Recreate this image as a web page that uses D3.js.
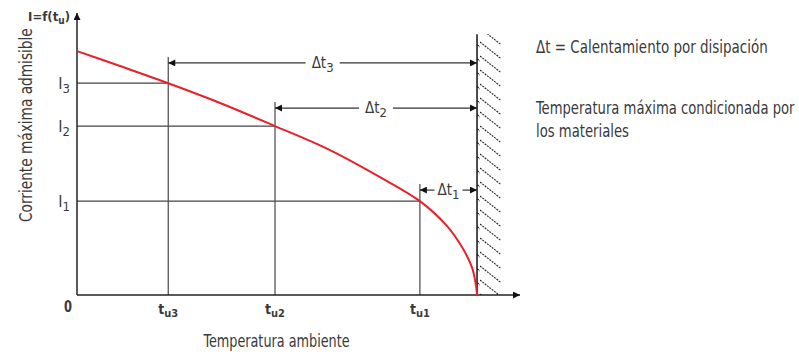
<!DOCTYPE html>
<html>
<head>
<meta charset="utf-8">
<script src="https://cdn.jsdelivr.net/npm/d3@7"></script>
<style>
  body { margin: 0; background: #fff; }
  svg text { font-family: "DejaVu Sans Condensed", "Liberation Sans", sans-serif; fill: #3a3a3a; }
</style>
</head>
<body>
<svg id="vis-svg"></svg>
<script>
// curve points (temperature units, current units)
const curveT = [0, 9.7, 20.6, 32.3, 44.7, 57.1, 68.4, 77.4, 83.5, 87.2, 89.2, 90.1, 90.3];
const curveI = [86.5, 81.2, 75.1, 68.1, 59.9, 51.4, 41.8, 33.3, 24.5, 16.2, 9.6, 3.0, 0];

// operating points
const pointNames = ["1", "2", "3"];
const pointT = [77.4, 44.7, 20.6];
const pointI = [33.3, 59.9, 75.1];
const tMax = 90.3;
const wallTop = 92.5;
const arrowLevel = [37.2, 66.3, 82.3];

const notes = ["Δt = Calentamiento por disipación", "Temperatura máxima condicionada por", "los materiales"];

let svg = d3.select("#vis-svg")
    .attr("width", 799)
    .attr("height", 357);

let x = d3.scaleLinear().domain([0, 100]).range([77, 520]);
let y = d3.scaleLinear().domain([0, 100]).range([295, 13]);

// squeeze a text to a given width (the reference font is condensed)
function fit(t, px, py, width, anchor, extra) {
    let w = t.node().getBBox().width;
    let k = width / w;
    let x0 = anchor === "middle" ? px - width / 2 : anchor === "end" ? px - width : px;
    if (extra) {
        t.attr("transform", `translate(${px},${py}) ${extra} translate(${x0 - px},0) scale(${k},1)`);
    } else {
        t.attr("transform", `translate(${x0},${py}) scale(${k},1)`);
    }
    return t;
}

// arrow heads
let defs = svg.append("defs");
defs.append("marker")
    .attr("id", "arr")
    .attr("viewBox", "0 0 10 10")
    .attr("refX", 10).attr("refY", 5)
    .attr("markerWidth", 10).attr("markerHeight", 7)
    .attr("markerUnits", "userSpaceOnUse")
    .attr("orient", "auto-start-reverse")
    .append("path")
    .attr("d", "M0,0L10,5L0,10Z")
    .attr("fill", "#111");

defs.append("pattern")
    .attr("id", "hatch")
    .attr("patternUnits", "userSpaceOnUse")
    .attr("width", 24).attr("height", 14)
    .append("path")
    .attr("d", "M0,0L24,19M0,-14L24,5M0,14L24,33")
    .attr("stroke", "#222")
    .attr("stroke-width", 1.1)
    .attr("stroke-dasharray", "2,1");

// reference lines from the axes to the points
pointT.forEach((t, i) => {
    svg.append("line")
        .attr("x1", x(0)).attr("x2", x(t))
        .attr("y1", y(pointI[i])).attr("y2", y(pointI[i]))
        .attr("stroke", "#444").attr("stroke-width", 1.3);
    svg.append("line")
        .attr("x1", x(t)).attr("x2", x(t))
        .attr("y1", y(0)).attr("y2", y(arrowLevel[i]) - 6)
        .attr("stroke", "#555").attr("stroke-width", 1.3);
});

// hatched wall
svg.append("rect")
    .attr("x", x(tMax)).attr("y", y(wallTop))
    .attr("width", 24).attr("height", y(0) - y(wallTop))
    .attr("fill", "url(#hatch)");
svg.append("line")
    .attr("x1", x(tMax)).attr("x2", x(tMax))
    .attr("y1", y(wallTop)).attr("y2", y(0))
    .attr("stroke", "#111").attr("stroke-width", 1.5);

// axes
svg.append("line")
    .attr("x1", x(0)).attr("x2", x(100))
    .attr("y1", y(0)).attr("y2", y(0))
    .attr("stroke", "#222").attr("stroke-width", 1.5)
    .attr("marker-end", "url(#arr)");
svg.append("line")
    .attr("x1", x(0)).attr("x2", x(0))
    .attr("y1", y(0)).attr("y2", y(100))
    .attr("stroke", "#222").attr("stroke-width", 1.5)
    .attr("marker-end", "url(#arr)");

// Δt arrows
const gapHalf = [14, 17, 17];
pointT.forEach((t, i) => {
    let mid = (x(t) + x(tMax)) / 2;
    let yy = y(arrowLevel[i]);
    let g = svg.append("g");
    g.append("line")
        .attr("x1", mid - gapHalf[i]).attr("x2", x(t))
        .attr("y1", yy).attr("y2", yy)
        .attr("stroke", "#333").attr("stroke-width", 1.2)
        .attr("marker-end", "url(#arr)");
    g.append("line")
        .attr("x1", mid + gapHalf[i]).attr("x2", x(tMax))
        .attr("y1", yy).attr("y2", yy)
        .attr("stroke", "#333").attr("stroke-width", 1.2)
        .attr("marker-end", "url(#arr)");
    let lab = g.append("text")
        .attr("x", mid).attr("y", yy + 5)
        .attr("text-anchor", "middle")
        .attr("font-size", 15);
    lab.append("tspan").text("Δt");
    lab.append("tspan").attr("dy", 4).attr("font-size", 13).text(pointNames[i]);
});

// red curve
let line = d3.line()
    .x((d, i) => x(curveT[i]))
    .y(d => y(d))
    .curve(d3.curveCatmullRom.alpha(0.5));
svg.append("path")
    .datum(curveI)
    .attr("d", line)
    .attr("fill", "none")
    .attr("stroke", "#e8202a")
    .attr("stroke-width", 2);

// tick labels
pointT.forEach((t, i) => {
    let tl = svg.append("text")
        .attr("x", x(t)).attr("y", 314)
        .attr("text-anchor", "middle")
        .attr("font-size", 14).attr("font-weight", "bold");
    tl.append("tspan").text("t");
    tl.append("tspan").attr("dy", 3).attr("font-size", 11).text("u" + pointNames[i]);

    let il = svg.append("text")
        .attr("x", 70).attr("y", y(pointI[i]) + 6)
        .attr("text-anchor", "end")
        .attr("font-size", 16);
    il.append("tspan").text("I");
    il.append("tspan").attr("dy", 4).attr("font-size", 13).text(pointNames[i]);
});

fit(svg.append("text")
    .attr("font-size", 15).attr("font-weight", "bold")
    .text("0"), 68, 312, 8, "middle");

let fl = svg.append("text")
    .attr("x", 70).attr("y", 21)
    .attr("text-anchor", "end")
    .attr("font-size", 13).attr("font-weight", "bold");
fl.append("tspan").text("I=f(t");
fl.append("tspan").attr("dy", 3).attr("font-size", 10).text("u");
fl.append("tspan").attr("dy", -3).text(")");

// axis titles
fit(svg.append("text")
    .attr("font-size", 18)
    .text("Temperatura ambiente"), 277, 347, 147, "middle");

fit(svg.append("text")
    .attr("font-size", 18)
    .text("Corriente máxima admisible"), 32, 125, 194, "middle", "rotate(-90)");

// notes on the right
const noteY = [53, 114, 137];
const noteW = [232, 260, 93];
notes.forEach((n, i) => {
    fit(svg.append("text")
        .attr("font-size", 17)
        .text(n), 536, noteY[i], noteW[i], "start");
});
</script>
</body>
</html>
